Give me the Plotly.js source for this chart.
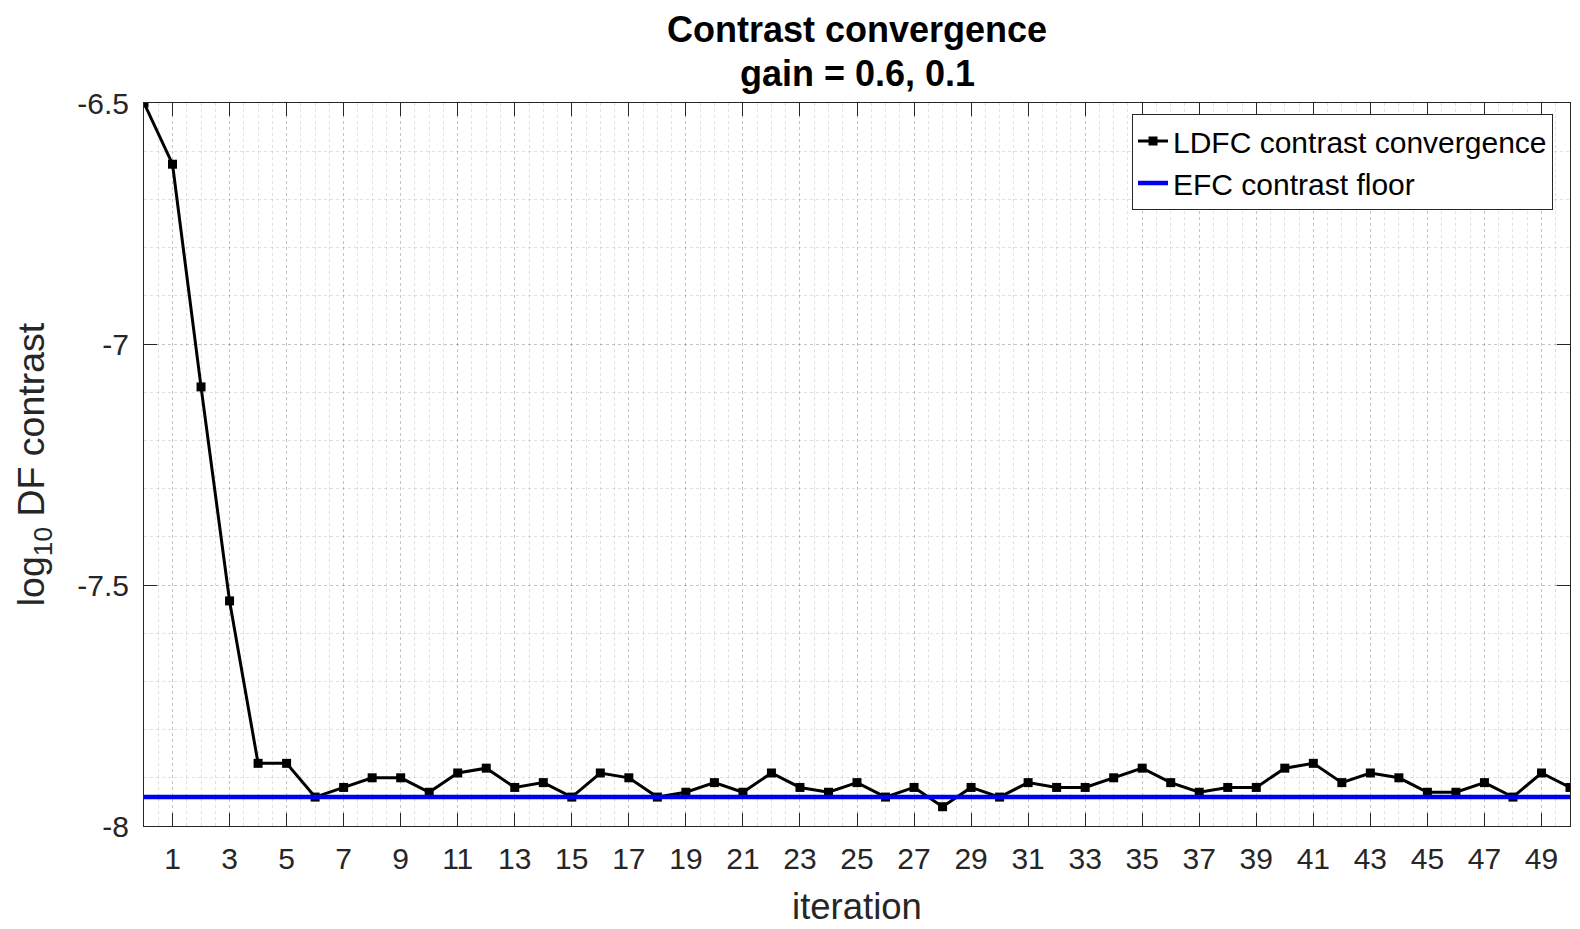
<!DOCTYPE html>
<html>
<head>
<meta charset="utf-8">
<script src="https://cdn.plot.ly/plotly-3.0.1.min.js"></script>
<style>
  html, body { margin: 0; padding: 0; background: #ffffff; }
  #chart { width: 1580px; height: 929px; }
</style>
</head>
<body>
<div id="chart"></div>
<script>
// ---- data ----
const iterations = [0,1,2,3,4,5,6,7,8,9,10,11,12,13,14,15,16,17,18,19,20,21,22,23,24,25,
                    26,27,28,29,30,31,32,33,34,35,36,37,38,39,40,41,42,43,44,45,46,47,48,49,50];
const ldfcContrast = [-6.50, -6.627, -7.089, -7.533, -7.87, -7.87, -7.94, -7.92, -7.90, -7.90,
                      -7.93, -7.89, -7.88, -7.92, -7.91, -7.94, -7.89, -7.90, -7.94, -7.93,
                      -7.91, -7.93, -7.89, -7.92, -7.93, -7.91, -7.94, -7.92, -7.96, -7.92,
                      -7.94, -7.91, -7.92, -7.92, -7.90, -7.88, -7.91, -7.93, -7.92, -7.92,
                      -7.88, -7.87, -7.91, -7.89, -7.90, -7.93, -7.93, -7.91, -7.94, -7.89,
                      -7.92];
const floorX = [0, 50];
const efcFloor = [-7.94, -7.94];
const xTickVals = [1,3,5,7,9,11,13,15,17,19,21,23,25,27,29,31,33,35,37,39,41,43,45,47,49];
const yTickVals = [-8, -7.5, -7, -6.5];
const yTickText = ['-8', '-7.5', '-7', '-6.5'];
const titleLine1 = 'Contrast convergence';
const titleLine2 = 'gain = 0.6, 0.1';
const seriesNames = ['LDFC contrast convergence', 'EFC contrast floor'];

const FONT = '"Liberation Sans", Arial, Helvetica, sans-serif';
const AX = '#262626';
const GRID = 'rgba(0,0,0,0.12)';

const traces = [
  {
    x: iterations, y: ldfcContrast, name: seriesNames[0],
    type: 'scatter', mode: 'lines+markers',
    line: { color: '#000000', width: 3 },
    marker: { symbol: 'square', size: 9, color: '#000000' }
  },
  {
    x: floorX, y: efcFloor, name: seriesNames[1],
    type: 'scatter', mode: 'lines',
    line: { color: 'rgb(0,0,240)', width: 4.5 }
  }
];

const layout = {
  width: 1580, height: 929,
  margin: { l: 143.5, r: 10, t: 103, b: 103, pad: 0 },
  paper_bgcolor: '#ffffff', plot_bgcolor: '#ffffff',
  font: { family: FONT, color: AX },
  showlegend: true,
  title: {
    text: '<b>' + titleLine1 + '</b>',
    font: { family: FONT, size: 36, color: '#000000' },
    xref: 'paper', x: 0.5, xanchor: 'center',
    yref: 'container', y: 1 - 29 / 929, yanchor: 'middle'
  },
  annotations: [{
    text: '<b>' + titleLine2 + '</b>',
    xref: 'paper', x: 0.5, xanchor: 'center',
    yref: 'paper', y: (826 - 74) / 723, yanchor: 'middle',
    showarrow: false,
    font: { family: FONT, size: 36, color: '#000000' }
  }],
  xaxis: {
    range: [0, 50], autorange: false,
    tickmode: 'array', tickvals: xTickVals,
    ticks: 'inside', ticklen: 13, tickwidth: 1, tickcolor: AX,
    showline: true, linecolor: AX, linewidth: 1, mirror: 'ticks',
    showgrid: true, gridcolor: GRID, griddash: 'dot', gridwidth: 1,
    zeroline: false,
    tickfont: { family: FONT, size: 30, color: AX },
    ticklabelstandoff: 6,
    minor: { tick0: 0, dtick: 0.5, showgrid: true, gridcolor: GRID, griddash: 'dot', gridwidth: 1, ticks: '' },
    title: { text: 'iteration', font: { family: FONT, size: 36.5, color: AX }, standoff: 19 },
    automargin: false
  },
  yaxis: {
    range: [-8, -6.5], autorange: false,
    tickmode: 'array', tickvals: yTickVals, ticktext: yTickText,
    ticks: 'inside', ticklen: 13, tickwidth: 1, tickcolor: AX,
    showline: true, linecolor: AX, linewidth: 1, mirror: 'ticks',
    showgrid: true, gridcolor: GRID, griddash: 'dot', gridwidth: 1,
    zeroline: false,
    tickfont: { family: FONT, size: 30, color: AX },
    ticklabelstandoff: 8,
    minor: { tick0: -8, dtick: 0.1, showgrid: true, gridcolor: GRID, griddash: 'dot', gridwidth: 1, ticks: '' },
    title: { text: 'log<sub>10</sub> DF contrast', font: { family: FONT, size: 37.5, color: AX }, standoff: 21 },
    automargin: false
  },
  legend: {
    x: (1553 - 143.5) / 1426.5, xanchor: 'right', xref: 'paper',
    y: (826 - 114) / 723, yanchor: 'top', yref: 'paper',
    bgcolor: '#ffffff', bordercolor: '#262626', borderwidth: 1,
    font: { family: FONT, size: 30, color: '#000000' },
    itemwidth: 30, tracegroupgap: 0
  }
};

Plotly.newPlot('chart', traces, layout, { displayModeBar: false, staticPlot: true });
</script>
</body>
</html>
